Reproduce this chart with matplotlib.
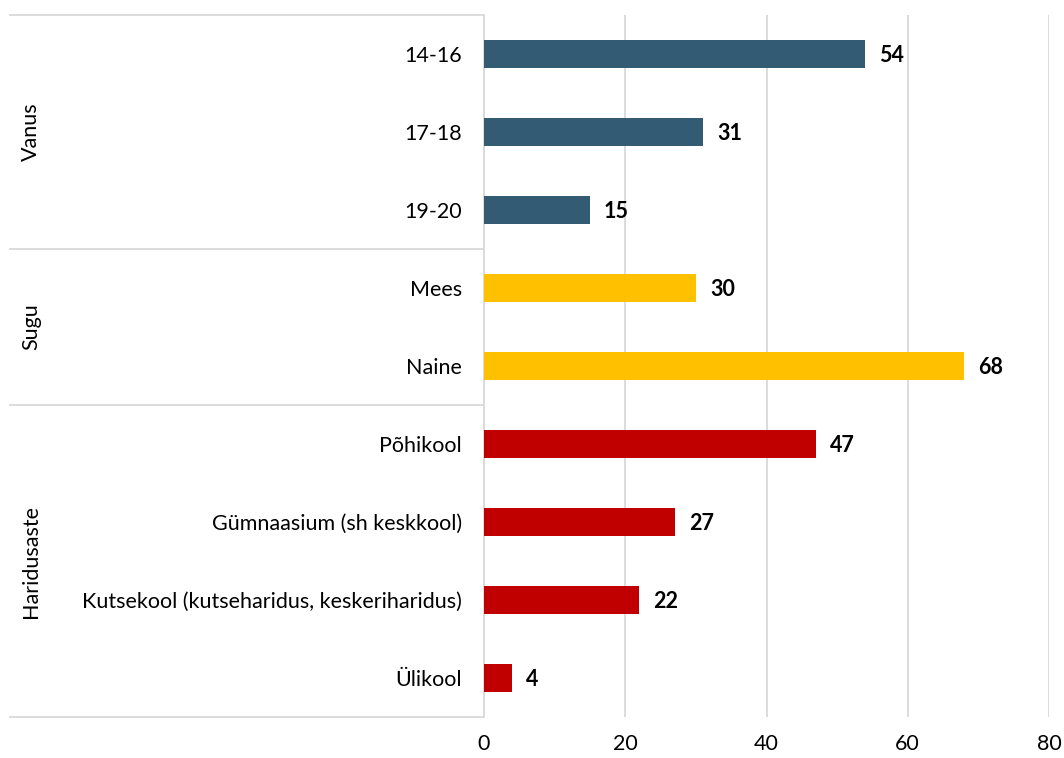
import matplotlib.pyplot as plt
from matplotlib.transforms import blended_transform_factory

# Data
categories = ['14-16', '17-18', '19-20', 'Mees', 'Naine',
              'Põhikool', 'Gümnaasium (sh keskkool)',
              'Kutsekool (kutseharidus, keskeriharidus)', 'Ülikool']
values = [54, 31, 15, 30, 68, 47, 27, 22, 4]
groups = ['Vanus', 'Sugu', 'Haridusaste']
group_sizes = [3, 2, 4]
group_colors = ['#335B74', '#FFC000', '#C00000']
x_ticks = [0, 20, 40, 60, 80]

plt.rcParams['font.family'] = ['Lato', 'DejaVu Sans']
FS = 15.5

fig = plt.figure(figsize=(10.64, 7.58), dpi=100)
ax = fig.add_axes([484/1064, 1 - 717/758, (1049 - 484)/1064, (717 - 15)/758])

colors = []
for c, n in zip(group_colors, group_sizes):
    colors += [c] * n

y = list(range(len(categories)))
ax.barh(y, values, height=0.36, color=colors, zorder=3)
for yi, v in zip(y, values):
    ax.text(v + 2.0, yi, str(v), va='center_baseline', ha='left', fontsize=FS,
            fontweight='bold', color='black')

ax.set_xlim(0, 80)
ax.set_ylim(len(categories) - 0.5, -0.5)
ax.set_xticks(x_ticks)
ax.set_yticks(y)
ax.set_yticklabels(categories)
ax.tick_params(axis='both', length=0, labelsize=FS)
ax.tick_params(axis='y', pad=16)
ax.tick_params(axis='x', pad=12)
ax.grid(axis='x', color='#D9D9D9', linewidth=1.3, zorder=0)
for s in ['top', 'right', 'bottom']:
    ax.spines[s].set_visible(False)
ax.spines['left'].set_color('#D9D9D9')
ax.spines['left'].set_linewidth(1.3)

# group separators and labels
trans = blended_transform_factory(fig.transFigure, ax.transData)
start = -0.5
bounds = [start]
for g, n in zip(groups, group_sizes):
    end = start + n
    bounds.append(end)
    ax.text(31/1064, (start + end) / 2, g, transform=trans, rotation=90,
            va='center', ha='center', fontsize=FS)
    start = end
for b in bounds:
    ax.plot([10/1064, 484/1064], [b, b], transform=trans, color='#D9D9D9',
            linewidth=1.3, clip_on=False)

fig.savefig('out.png', dpi=100)
